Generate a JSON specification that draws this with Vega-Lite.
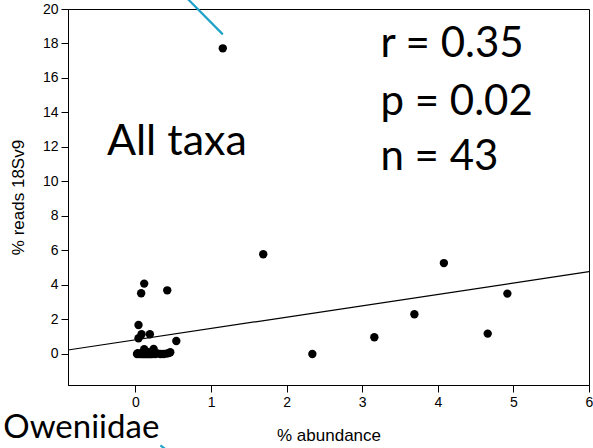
{
  "$schema": "https://vega.github.io/schema/vega-lite/v6.json",
  "width": 521,
  "height": 376,
  "autosize": {"type": "none"},
  "padding": {"left": 68, "top": 9, "right": 4, "bottom": 63},
  "background": "white",
  "config": {
    "view": {"stroke": "#000", "strokeWidth": 1},
    "axis": {"labelFont": "Liberation Sans", "titleFont": "Liberation Sans", "labelFontSize": 14, "titleFontSize": 17, "titleFontWeight": "normal", "labelColor": "#000", "titleColor": "#000", "domainColor": "#000", "tickColor": "#000", "grid": false, "tickSize": 7, "labelPadding": 3, "labelFlush": false}
  },
  "datasets": {
    "pts": [
      {"abund": 1.155, "reads": 17.72}, {"abund": 1.69, "reads": 5.78}, {"abund": 2.34, "reads": 0.0}, {"abund": 3.16, "reads": 0.97},
      {"abund": 3.69, "reads": 2.30}, {"abund": 4.08, "reads": 5.27}, {"abund": 4.66, "reads": 1.18}, {"abund": 4.92, "reads": 3.50},
      {"abund": 0.115, "reads": 4.08}, {"abund": 0.075, "reads": 3.52}, {"abund": 0.42, "reads": 3.69}, {"abund": 0.04, "reads": 1.68},
      {"abund": 0.04, "reads": 0.91}, {"abund": 0.08, "reads": 1.14}, {"abund": 0.19, "reads": 1.14}, {"abund": 0.54, "reads": 0.75},
      {"abund": 0.02, "reads": 0.0}, {"abund": 0.03, "reads": 0.05}, {"abund": 0.05, "reads": 0.0}, {"abund": 0.06, "reads": 0.02},
      {"abund": 0.08, "reads": 0.0}, {"abund": 0.09, "reads": 0.05}, {"abund": 0.10, "reads": 0.0}, {"abund": 0.115, "reads": 0.27},
      {"abund": 0.12, "reads": 0.0}, {"abund": 0.13, "reads": 0.05}, {"abund": 0.14, "reads": 0.0}, {"abund": 0.15, "reads": 0.02},
      {"abund": 0.16, "reads": 0.0}, {"abund": 0.17, "reads": 0.1}, {"abund": 0.18, "reads": 0.0}, {"abund": 0.19, "reads": 0.05},
      {"abund": 0.20, "reads": 0.0}, {"abund": 0.21, "reads": 0.02}, {"abund": 0.22, "reads": 0.0}, {"abund": 0.24, "reads": 0.29},
      {"abund": 0.26, "reads": 0.0}, {"abund": 0.29, "reads": 0.03}, {"abund": 0.33, "reads": 0.0}, {"abund": 0.37, "reads": 0.0},
      {"abund": 0.41, "reads": 0.02}, {"abund": 0.44, "reads": 0.05}, {"abund": 0.46, "reads": 0.1}
    ],
    "fit": [
      {"abund": -0.893, "reads": 0.23}, {"abund": 6.0, "reads": 4.77}
    ],
    "arrows": [
      {"x1": 0.62, "y1": 20.9, "x2": 1.155, "y2": 18.53},
      {"x1": 0.33, "y1": -5.3, "x2": 0.42, "y2": -5.6}
    ],
    "labels": [
      {"abund": 3.24, "reads": 17.2, "text": "r = 0.35", "size": 42},
      {"abund": 3.24, "reads": 13.86, "text": "p = 0.02", "size": 42},
      {"abund": 3.24, "reads": 10.67, "text": "n = 43", "size": 42},
      {"abund": -0.378, "reads": 11.54, "text": "All taxa", "size": 43},
      {"abund": -1.75, "reads": -4.87, "text": "Oweniidae", "size": 33}
    ]
  },
  "layer": [
    {
      "data": {"name": "pts"},
      "mark": {"type": "point", "filled": true, "color": "#000", "opacity": 1, "size": 70},
      "encoding": {
        "x": {"field": "abund", "type": "quantitative", "scale": {"domain": [-0.893, 6], "nice": false, "zero": false},
              "axis": {"values": [0, 1, 2, 3, 4, 5, 6], "format": "d", "title": "% abundance", "titlePadding": 18, "labelOverlap": false}},
        "y": {"field": "reads", "type": "quantitative", "scale": {"domain": [-1.8, 20], "nice": false, "zero": false},
              "axis": {"tickCount": 11, "format": "d", "title": "% reads 18Sv9", "titlePadding": 15, "labelOverlap": "greedy", "labelSeparation": 0, "labelFontSize": 14, "labelBaseline": "middle"}}
      }
    },
    {
      "data": {"name": "fit"},
      "mark": {"type": "line", "color": "#000", "strokeWidth": 1.2},
      "encoding": {
        "x": {"field": "abund", "type": "quantitative"},
        "y": {"field": "reads", "type": "quantitative"}
      }
    },
    {
      "data": {"name": "arrows"},
      "mark": {"type": "rule", "color": "#1ea2c8", "strokeWidth": 2.2, "clip": false},
      "encoding": {
        "x": {"field": "x1", "type": "quantitative"},
        "y": {"field": "y1", "type": "quantitative"},
        "x2": {"field": "x2"},
        "y2": {"field": "y2"}
      }
    },
    {
      "data": {"name": "labels"},
      "mark": {"type": "text", "font": "Lato", "align": "left", "baseline": "alphabetic", "color": "#000", "clip": false},
      "encoding": {
        "x": {"field": "abund", "type": "quantitative"},
        "y": {"field": "reads", "type": "quantitative"},
        "text": {"field": "text"},
        "size": {"field": "size", "type": "quantitative", "scale": null}
      }
    }
  ]
}
